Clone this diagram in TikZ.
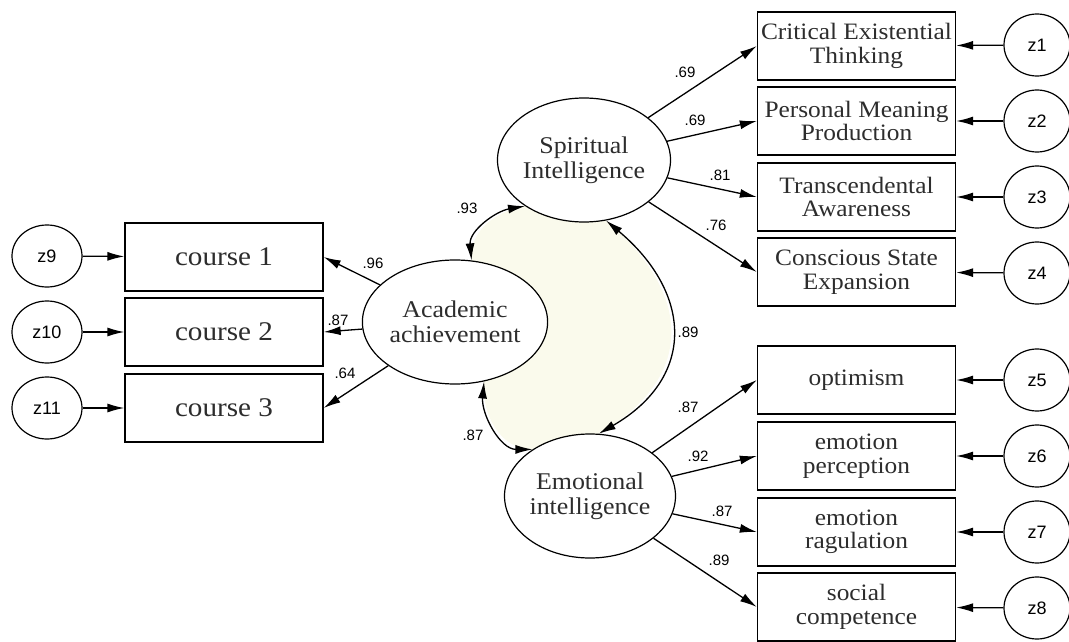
\documentclass[tikz,border=0pt]{standalone}
\usepackage{fontspec}
\setmainfont{Liberation Serif}[FakeStretch=1.08]
\newfontfamily\numfont{Liberation Sans}
\usetikzlibrary{arrows.meta,shapes.geometric,backgrounds}
\definecolor{covfill}{RGB}{250,250,236}
\definecolor{inkgray}{RGB}{45,45,45}

\tikzset{
  obs/.style={draw, fill=white, line width=1.3pt, minimum width=198pt, minimum height=68pt,
    inner sep=0pt, align=center, text=inkgray, font=\fontsize{23.5}{23.5}\selectfont},
  crs/.style={obs, font=\fontsize{27}{27}\selectfont},
  lat/.style={ellipse, draw, fill=white, line width=1.2pt, minimum width=150pt, minimum height=124pt,
    inner sep=0pt, align=center, text=inkgray, font=\fontsize{24}{25}\selectfont},
  err/.style={ellipse, draw, fill=white, line width=1.2pt, minimum width=66pt, minimum height=62pt,
    inner sep=0pt, font=\numfont\fontsize{18}{18}\selectfont},
  coef/.style={inner sep=0pt, font=\numfont\fontsize{15}{15}\selectfont},
  reg/.style={-{Latex[length=17pt,width=9pt]}, line width=1.3pt},
  cov/.style={{Latex[length=17pt,width=9pt]}-{Latex[length=17pt,width=9pt]}, line width=1.3pt},
}

\begin{document}
\begin{tikzpicture}[x=1pt, y=1pt]
    \useasboundingbox (0,0) rectangle (1069,-642);

    % latent variables
    \node[lat] (spir) at (584,-160) {Spiritual\\Intelligence};
    \node[lat] (acad) at (455,-322) {Academic\\achievement};
    \node[lat] (emo) at (590,-496) {Emotional\\intelligence};

    % spiritual intelligence indicators
    \node[obs] (b1) at (856.5,-46) {Critical Existential\\Thinking};
    \node[obs] (b2) at (856.5,-121) {Personal Meaning\\Production};
    \node[obs] (b3) at (856.5,-197) {Transcendental\\Awareness};
    \node[obs] (b4) at (856.5,-272) {Conscious State\\Expansion};

    % emotional intelligence indicators
    \node[obs] (b5) at (856.5,-380) {optimism};
    \node[obs] (b6) at (856.5,-456) {emotion\\perception};
    \node[obs] (b7) at (856.5,-532) {emotion\\ragulation};
    \node[obs] (b8) at (856.5,-607) {social\\competence};

    % courses
    \node[crs] (crs1) at (224,-257) {course 1};
    \node[crs] (crs2) at (224,-332) {course 2};
    \node[crs] (crs3) at (224,-408) {course 3};

    % error terms
    \node[err] (z1) at (1037,-45) {z1};
    \node[err] (z2) at (1037,-121) {z2};
    \node[err] (z3) at (1037,-197) {z3};
    \node[err] (z4) at (1037,-273) {z4};
    \node[err] (z5) at (1037,-380) {z5};
    \node[err] (z6) at (1037,-456) {z6};
    \node[err] (z7) at (1037,-532) {z7};
    \node[err] (z8) at (1037,-608) {z8};
    \node[err, minimum width=70pt] (z9) at (47,-256) {z9};
    \node[err, minimum width=70pt] (z10) at (47,-332) {z10};
    \node[err, minimum width=70pt] (z11) at (47,-408) {z11};

    \foreach \i in {1,...,8} {
        \draw[reg] (z\i) -- (b\i);
    }
    \draw[reg] (z9) -- (crs1);
    \draw[reg] (z10) -- (crs2);
    \draw[reg] (z11) -- (crs3);

    % loadings
    \foreach \i in {1,...,4} {
        \draw[reg] (spir) -- (b\i.west);
    }
    \foreach \i in {5,...,8} {
        \draw[reg] (emo) -- (b\i.west);
    }
    \foreach \i in {1,2,3} {
        \draw[reg] (acad) -- (crs\i.east);
    }

    % correlations
    \begin{scope}[on background layer]
        \fill[covfill] (acad.75) to[out=95,in=190] (spir.218) -- (spir.290)
            to[out=-40,in=30,looseness=1.35] (emo.82) -- (emo.141)
            to[out=180,in=-95] (acad.-64) -- cycle;
    \end{scope}
    \draw[cov] (acad.75) to[out=95,in=190] (spir.218);
    \draw[cov] (spir.290) to[out=-40,in=30,looseness=1.35] (emo.82);
    \draw[cov] (acad.-64) to[out=-95,in=180] (emo.141);

    % coefficients
    \node[coef] (l1) at (685,-72) {.69};
    \node[coef] (l2) at (695,-120) {.69};
    \node[coef] (l3) at (720,-175) {.81};
    \node[coef] (l4) at (716,-225) {.76};
    \node[coef] (l5) at (688,-407) {.87};
    \node[coef] (l6) at (698,-456) {.92};
    \node[coef] (l7) at (722,-511) {.87};
    \node[coef] (l8) at (719,-560) {.89};
    \node[coef] (l9) at (373,-263) {.96};
    \node[coef] (l10) at (338,-320) {.87};
    \node[coef] (l11) at (345,-373) {.64};
    \node[coef] (l12) at (467,-208) {.93};
    \node[coef] (l13) at (688,-332) {.89};
    \node[coef] (l14) at (473,-435) {.87};
\end{tikzpicture}
\end{document}
